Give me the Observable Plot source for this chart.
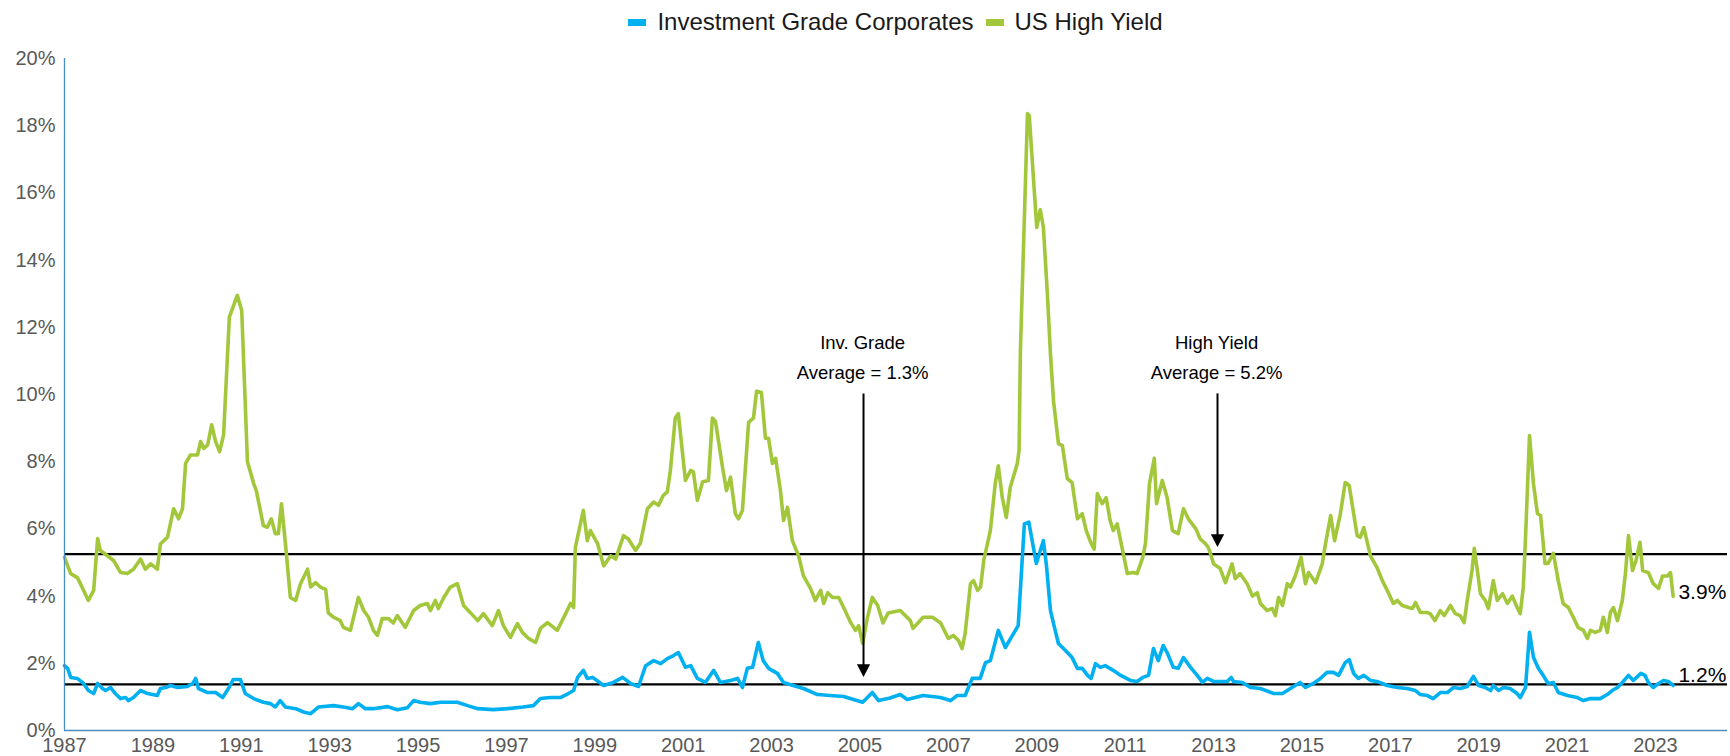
<!DOCTYPE html>
<html>
<head>
<meta charset="utf-8">
<script src="https://cdn.jsdelivr.net/npm/d3@7"></script>
<script src="https://cdn.jsdelivr.net/npm/@observablehq/plot@0.6"></script>
<style>
  html, body { margin: 0; padding: 0; background: #fff; }
  body { width: 1730px; height: 756px; overflow: hidden; font-family: "Liberation Sans", Arial, sans-serif; }
  #legend { height: 38px; display: flex; justify-content: center; align-items: center; margin-left: 64px; margin-right: 3px; font-size: 24px; color: #1a1a1a; padding-top: 6px; box-sizing: border-box; }
  .item { display: flex; align-items: center; margin: 0 6px; }
  .sw { width: 18px; height: 7px; margin-right: 11px; }
  #chart svg { display: block; }
</style>
</head>
<body>
<div id="legend"></div>
<div id="chart"></div>
<script>
// ---- Data ----
const seriesNames = ["Investment Grade Corporates", "US High Yield"];
const seriesColors = ["#00B0F0", "#A2C73B"];

const hyYears = [1987.00,1987.14,1987.29,1987.36,1987.54,1987.66,1987.75,1987.81,1987.97,1988.11,1988.27,1988.42,1988.56,1988.72,1988.83,1988.95,1989.10,1989.17,1989.33,1989.47,1989.58,1989.67,1989.74,1989.85,1990.01,1990.08,1990.15,1990.24,1990.33,1990.42,1990.51,1990.60,1990.73,1990.91,1991.01,1991.14,1991.28,1991.34,1991.50,1991.59,1991.68,1991.77,1991.84,1991.91,1992.00,1992.11,1992.23,1992.34,1992.50,1992.57,1992.68,1992.79,1992.91,1992.97,1993.09,1993.24,1993.31,1993.47,1993.65,1993.77,1993.88,1993.99,1994.08,1994.19,1994.33,1994.44,1994.53,1994.71,1994.90,1995.05,1995.21,1995.28,1995.39,1995.46,1995.58,1995.73,1995.89,1996.03,1996.19,1996.35,1996.48,1996.68,1996.82,1996.93,1997.09,1997.25,1997.36,1997.50,1997.66,1997.77,1997.93,1998.15,1998.34,1998.45,1998.52,1998.56,1998.74,1998.83,1998.90,1999.06,1999.20,1999.36,1999.47,1999.65,1999.76,1999.92,2000.03,2000.19,2000.33,2000.44,2000.55,2000.64,2000.71,2000.82,2000.89,2001.05,2001.17,2001.23,2001.32,2001.44,2001.57,2001.66,2001.73,2001.89,2001.98,2002.07,2002.18,2002.25,2002.34,2002.48,2002.59,2002.66,2002.77,2002.86,2002.93,2003.02,2003.09,2003.20,2003.27,2003.36,2003.47,2003.61,2003.72,2003.88,2003.99,2004.11,2004.18,2004.27,2004.38,2004.52,2004.63,2004.79,2004.90,2004.97,2005.06,2005.17,2005.28,2005.40,2005.52,2005.64,2005.91,2006.14,2006.20,2006.43,2006.64,2006.82,2007.00,2007.11,2007.23,2007.31,2007.38,2007.50,2007.57,2007.66,2007.73,2007.80,2007.95,2008.06,2008.13,2008.22,2008.31,2008.40,2008.56,2008.60,2008.63,2008.79,2008.83,2009.00,2009.08,2009.15,2009.24,2009.31,2009.38,2009.49,2009.58,2009.69,2009.80,2009.92,2010.03,2010.12,2010.23,2010.30,2010.37,2010.48,2010.57,2010.66,2010.73,2010.82,2010.91,2011.05,2011.18,2011.27,2011.40,2011.46,2011.55,2011.66,2011.71,2011.84,2011.95,2012.07,2012.20,2012.32,2012.43,2012.60,2012.70,2012.81,2012.88,2012.93,2013.00,2013.15,2013.27,2013.42,2013.49,2013.60,2013.76,2013.88,2013.99,2014.06,2014.21,2014.33,2014.40,2014.47,2014.56,2014.67,2014.74,2014.85,2014.98,2015.08,2015.15,2015.31,2015.46,2015.52,2015.65,2015.74,2015.87,2015.98,2016.07,2016.25,2016.32,2016.40,2016.55,2016.70,2016.82,2016.93,2017.07,2017.16,2017.27,2017.41,2017.50,2017.57,2017.68,2017.84,2017.90,2018.01,2018.13,2018.22,2018.36,2018.47,2018.58,2018.67,2018.74,2018.85,2018.90,2018.97,2019.04,2019.15,2019.22,2019.33,2019.42,2019.54,2019.65,2019.76,2019.87,2019.94,2020.01,2020.06,2020.15,2020.24,2020.33,2020.40,2020.46,2020.50,2020.57,2020.69,2020.80,2020.91,2021.03,2021.14,2021.25,2021.37,2021.46,2021.53,2021.64,2021.75,2021.82,2021.91,2021.98,2022.05,2022.14,2022.25,2022.32,2022.39,2022.48,2022.56,2022.65,2022.71,2022.84,2022.95,2023.07,2023.16,2023.27,2023.34,2023.40];
const hyValues = [5.15,4.67,4.55,4.37,3.87,4.17,5.71,5.36,5.20,5.06,4.70,4.67,4.80,5.10,4.80,4.96,4.80,5.55,5.75,6.60,6.30,6.60,7.95,8.20,8.20,8.60,8.40,8.50,9.10,8.60,8.30,8.80,12.30,12.95,12.50,8.00,7.35,7.14,6.10,6.05,6.30,5.86,5.86,6.75,5.55,3.96,3.87,4.37,4.80,4.27,4.40,4.27,4.20,3.50,3.37,3.27,3.07,2.98,3.96,3.57,3.37,2.98,2.83,3.33,3.33,3.20,3.42,3.07,3.57,3.72,3.78,3.57,3.87,3.63,3.95,4.27,4.37,3.72,3.50,3.27,3.48,3.12,3.57,3.12,2.77,3.18,2.92,2.74,2.62,3.04,3.21,2.98,3.48,3.78,3.66,5.45,6.55,5.65,5.95,5.57,4.90,5.20,5.10,5.80,5.70,5.36,5.57,6.60,6.80,6.70,7.00,7.10,7.74,9.30,9.43,7.44,7.74,7.70,6.85,7.40,7.44,9.30,9.20,7.83,7.14,7.54,6.45,6.30,6.55,9.17,9.30,10.10,10.06,8.70,8.70,7.95,8.10,7.14,6.25,6.64,5.65,5.20,4.60,4.23,3.87,4.17,3.78,4.10,3.96,3.96,3.66,3.21,2.98,3.12,2.59,3.37,3.96,3.72,3.20,3.50,3.57,3.27,3.04,3.37,3.37,3.21,2.74,2.83,2.68,2.44,2.89,4.37,4.46,4.17,4.27,5.06,5.95,7.34,7.88,6.93,6.34,7.23,7.95,8.33,11.30,18.36,18.30,14.97,15.50,14.97,13.00,11.20,9.80,8.54,8.48,7.50,7.38,6.30,6.45,5.95,5.57,5.40,7.05,6.75,6.93,6.25,5.95,6.15,5.57,4.67,4.70,4.67,5.15,5.57,7.34,8.10,6.75,7.44,6.93,5.95,5.86,6.60,6.30,6.00,5.70,5.57,5.45,5.27,4.96,4.82,4.40,4.96,4.52,4.67,4.37,4.00,4.10,3.78,3.57,3.63,3.42,3.96,3.72,4.37,4.27,4.60,5.15,4.37,4.70,4.40,4.96,5.45,6.40,5.65,6.45,7.38,7.29,5.80,5.75,6.04,5.20,4.85,4.46,4.17,3.78,3.87,3.72,3.66,3.63,3.81,3.51,3.51,3.48,3.27,3.57,3.42,3.72,3.48,3.42,3.21,3.87,4.76,5.42,4.76,4.07,3.87,3.63,4.46,3.87,4.07,3.78,4.00,3.66,3.48,4.27,5.75,8.78,7.34,6.45,6.40,5.57,4.97,4.97,5.27,4.46,3.78,3.66,3.37,3.07,2.98,2.74,2.98,2.92,2.98,3.37,2.92,3.51,3.66,3.27,3.87,4.67,5.80,4.76,5.06,5.60,4.76,4.70,4.37,4.23,4.60,4.60,4.70,4.00];

const igYears = [1987.00,1987.07,1987.14,1987.29,1987.43,1987.54,1987.66,1987.75,1987.86,1987.93,1988.04,1988.15,1988.27,1988.38,1988.45,1988.56,1988.72,1988.88,1989.10,1989.17,1989.29,1989.40,1989.56,1989.78,1989.90,1989.97,1990.03,1990.24,1990.42,1990.58,1990.71,1990.82,1990.98,1991.09,1991.28,1991.50,1991.66,1991.77,1991.88,1992.00,1992.23,1992.41,1992.57,1992.75,1993.09,1993.31,1993.52,1993.65,1993.81,1993.99,1994.31,1994.53,1994.76,1994.90,1995.05,1995.28,1995.51,1995.89,1996.12,1996.35,1996.71,1997.02,1997.38,1997.61,1997.77,1998.00,1998.22,1998.40,1998.52,1998.61,1998.74,1998.83,1998.95,1999.20,1999.42,1999.63,1999.81,1999.99,2000.15,2000.33,2000.49,2000.64,2000.78,2000.89,2001.05,2001.17,2001.32,2001.50,2001.69,2001.84,2002.07,2002.23,2002.34,2002.45,2002.57,2002.70,2002.81,2002.93,2003.13,2003.27,2003.49,2003.72,2004.04,2004.33,2004.63,2005.06,2005.28,2005.42,2005.66,2005.91,2006.07,2006.43,2006.82,2007.05,2007.20,2007.38,2007.54,2007.72,2007.84,2007.95,2008.13,2008.29,2008.45,2008.58,2008.72,2008.82,2008.99,2009.15,2009.22,2009.31,2009.38,2009.49,2009.65,2009.80,2009.92,2010.03,2010.15,2010.23,2010.33,2010.44,2010.55,2010.73,2010.90,2011.12,2011.27,2011.40,2011.53,2011.64,2011.75,2011.86,2011.95,2012.09,2012.20,2012.32,2012.48,2012.63,2012.75,2012.86,2013.00,2013.31,2013.40,2013.45,2013.65,2013.84,2014.06,2014.36,2014.56,2014.74,2014.96,2015.08,2015.26,2015.42,2015.57,2015.71,2015.83,2015.98,2016.07,2016.17,2016.28,2016.40,2016.55,2016.70,2016.93,2017.16,2017.38,2017.57,2017.68,2017.84,2017.97,2018.13,2018.29,2018.43,2018.58,2018.74,2018.88,2019.00,2019.15,2019.27,2019.33,2019.45,2019.56,2019.71,2019.87,2019.94,2020.06,2020.15,2020.24,2020.35,2020.46,2020.57,2020.69,2020.80,2021.01,2021.23,2021.37,2021.53,2021.75,2021.91,2022.02,2022.14,2022.25,2022.39,2022.50,2022.67,2022.76,2022.84,2022.95,2023.07,2023.18,2023.29,2023.40];
const igValues = [1.93,1.85,1.58,1.55,1.40,1.19,1.10,1.40,1.25,1.19,1.28,1.10,0.95,0.98,0.89,0.98,1.19,1.10,1.04,1.25,1.28,1.34,1.28,1.31,1.40,1.55,1.25,1.13,1.13,0.98,1.25,1.52,1.52,1.10,0.95,0.84,0.80,0.70,0.89,0.70,0.65,0.55,0.50,0.70,0.74,0.70,0.65,0.80,0.65,0.65,0.71,0.62,0.68,0.89,0.84,0.80,0.84,0.84,0.74,0.65,0.62,0.65,0.70,0.74,0.95,0.98,0.98,1.10,1.19,1.58,1.79,1.55,1.58,1.34,1.43,1.58,1.40,1.31,1.93,2.08,1.99,2.14,2.23,2.32,1.88,1.93,1.55,1.43,1.79,1.43,1.49,1.55,1.28,1.85,1.88,2.62,2.08,1.85,1.70,1.43,1.34,1.25,1.07,1.04,1.01,0.84,1.13,0.89,0.96,1.07,0.92,1.04,0.98,0.89,1.04,1.04,1.55,1.55,2.02,2.08,2.98,2.47,2.83,3.12,6.15,6.20,4.97,5.65,4.90,3.57,3.18,2.59,2.38,2.17,1.85,1.85,1.64,1.55,1.99,1.88,1.93,1.79,1.64,1.49,1.46,1.58,1.64,2.44,2.08,2.53,2.32,1.88,1.85,2.17,1.88,1.64,1.43,1.55,1.46,1.46,1.58,1.46,1.43,1.28,1.25,1.10,1.10,1.25,1.43,1.28,1.40,1.55,1.73,1.73,1.64,2.02,2.11,1.70,1.55,1.64,1.49,1.46,1.34,1.28,1.25,1.19,1.07,1.04,0.95,1.13,1.13,1.28,1.25,1.31,1.61,1.34,1.28,1.19,1.34,1.19,1.28,1.25,1.10,0.98,1.28,2.92,2.17,1.85,1.64,1.40,1.43,1.13,1.04,0.98,0.89,0.95,0.95,1.07,1.19,1.28,1.43,1.64,1.49,1.70,1.64,1.43,1.28,1.40,1.49,1.46,1.34];

// Averages
const averageValues = [5.25, 1.37];

// Annotations
const annotationTexts = ["Inv. Grade", "Average = 1.3%", "High Yield", "Average = 5.2%"];
const annotationX = [2005.06, 2005.06, 2013.07, 2013.07];
const annotationY = [11.53, 10.63, 11.53, 10.63];
const arrowX = [2005.08, 2013.09];
const arrowTop = [9.84, 9.84];
const arrowTip = [1.59, 5.46];

// End labels
const endLabels = ["3.9%", "1.2%"];
const endLabelX = [2023.52, 2023.52];
const endLabelY = [4.12, 1.65];

// Axis ticks
const yTicks = [0, 2, 4, 6, 8, 10, 12, 14, 16, 18, 20];
const xTicks = d3.range(1987, 2024, 2);

// ---- Build tables ----
const hy = hyYears.map((x, i) => ({x, y: hyValues[i]}));
const ig = igYears.map((x, i) => ({x, y: igValues[i]}));
const ann = annotationTexts.map((t, i) => ({t, x: annotationX[i], y: annotationY[i]}));
const arrows = arrowX.map((x, i) => ({x, y1: arrowTop[i], y2: arrowTip[i]}));
const ends = endLabels.map((t, i) => ({t, x: endLabelX[i], y: endLabelY[i]}));

// legend
const legend = document.getElementById("legend");
seriesNames.forEach((n, i) => {
  const it = document.createElement("div");
  it.className = "item";
  it.innerHTML = `<span class="sw" style="background:${seriesColors[i]}"></span><span>${n}</span>`;
  legend.appendChild(it);
});

// downward arrowhead with tip at origin
const headSymbol = {
  draw(ctx, size) {
    const h = Math.sqrt(size) * 0.9;
    const w = h * 0.52;
    ctx.moveTo(0, 0);
    ctx.lineTo(-w, -h);
    ctx.lineTo(w, -h);
    ctx.closePath();
  }
};

const axisColor = "#4A8FC4";

const chart = Plot.plot({
  width: 1730,
  height: 718,
  marginLeft: 64,
  marginRight: 3,
  marginTop: 20,
  marginBottom: 26,
  style: {fontFamily: "'Liberation Sans', Arial, sans-serif", fontSize: "20px", background: "#fff"},
  x: {type: "linear", domain: [1987, 2024.63]},
  y: {domain: [0, 20]},
  marks: [
    Plot.axisX({ticks: xTicks, tickFormat: d => String(d), tickSize: 0, tickPadding: 7, label: null, fill: "#595959", fontSize: 20}),
    Plot.axisY({ticks: yTicks, tickFormat: d => d + "%", tickSize: 0, tickPadding: 9, label: null, fill: "#595959", fontSize: 20}),
    Plot.ruleY(averageValues, {stroke: "#000", strokeWidth: 2.2}),
    Plot.line(hy, {x: "x", y: "y", stroke: seriesColors[1], strokeWidth: 3.6, strokeLinejoin: "round"}),
    Plot.line(ig, {x: "x", y: "y", stroke: seriesColors[0], strokeWidth: 3.6, strokeLinejoin: "round"}),
    Plot.ruleY([0], {stroke: axisColor, strokeWidth: 1.3}),
    Plot.ruleX([1987], {y1: 0, y2: 20, stroke: axisColor, strokeWidth: 1.3}),
    Plot.ruleX(arrows, {x: "x", y1: "y1", y2: "y2", stroke: "#000", strokeWidth: 2, dy: -6}),
    Plot.dot(arrows, {x: "x", y: "y2", symbol: headSymbol, r: 8, fill: "#000", stroke: "none"}),
    Plot.text(ann, {x: "x", y: "y", text: "t", fill: "#000", fontSize: 18.5, textAnchor: "middle"}),
    Plot.text(ends, {x: "x", y: "y", text: "t", fill: "#000", fontSize: 21, textAnchor: "start"})
  ]
});
document.getElementById("chart").appendChild(chart);
</script>
</body>
</html>
